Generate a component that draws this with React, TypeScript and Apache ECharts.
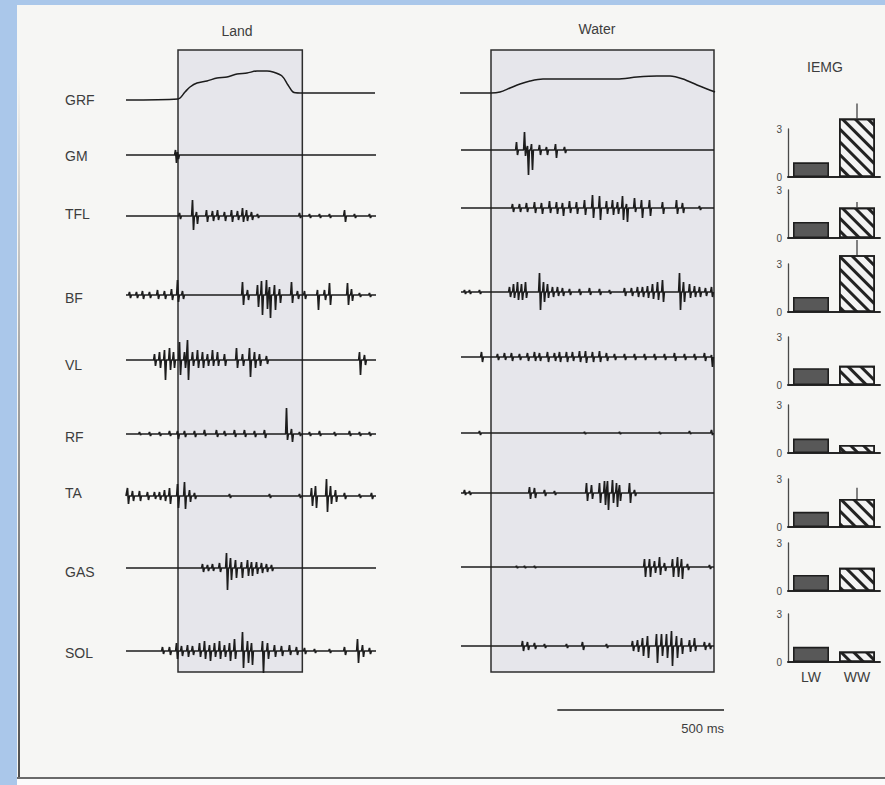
import React, { useEffect, useRef } from 'react';
import * as echarts from 'echarts';

// ---------- DATA ----------
const rowNames = ['GRF', 'GM', 'TFL', 'BF', 'VL', 'RF', 'TA', 'GAS', 'SOL'];

// Ground reaction force [ms from foot contact, force a.u.]
const grfLand = [[-156, 0], [0, 1], [21, 8], [36, 13], [57, 17], [87, 19], [117, 22], [147, 23], [177, 26], [207, 27], [237, 29], [267, 29], [285, 28], [312, 24], [330, 15], [345, 8], [366, 7], [591, 7]];
const grfWater = [[-93, 0], [0, 0], [27, 1], [57, 5], [87, 9], [117, 12], [156, 14], [228, 14], [297, 14], [378, 14], [438, 16], [498, 17], [537, 17], [576, 14], [618, 8], [648, 4], [672, 1]];

// EMG spikes: [ms, upward amplitude, downward amplitude]
const gmLand = [[-6, 5, 8], [0, 3, 4]];
const tflLand = [[6, 3, 3], [45, 16, 14], [57, 4, 8], [87, 6, 6], [105, 5, 5], [120, 6, 4], [141, 4, 5], [162, 6, 6], [180, 5, 4], [195, 8, 6], [207, 6, 5], [222, 4, 4], [240, 2, 2], [366, 3, 2], [396, 2, 2], [426, 2, 2], [456, 2, 2], [501, 6, 6], [531, 2, 2], [576, 2, 2]];
const bfLand = [[-144, 3, 3], [-123, 3, 3], [-105, 4, 4], [-84, 3, 3], [-60, 5, 4], [-39, 4, 4], [-18, 6, 5], [0, 15, 7], [15, 4, 4], [195, 13, 10], [210, 5, 5], [240, 10, 12], [252, 14, 20], [267, 15, 14], [276, 8, 23], [291, 10, 15], [306, 6, 8], [342, 13, 8], [360, 4, 4], [381, 4, 4], [420, 5, 15], [441, 5, 5], [456, 12, 10], [510, 12, 10], [522, 6, 6], [546, 2, 2], [576, 2, 2]];
const vlLand = [[-69, 6, 6], [-54, 8, 8], [-39, 10, 20], [-24, 12, 10], [-12, 8, 8], [6, 18, 15], [21, 8, 8], [30, 20, 20], [45, 8, 6], [60, 10, 8], [75, 8, 8], [90, 6, 6], [105, 10, 6], [120, 8, 6], [141, 6, 6], [177, 12, 8], [195, 6, 6], [216, 12, 17], [231, 8, 8], [246, 6, 6], [267, 4, 4], [546, 8, 15], [561, 5, 5]];
const rfLand = [[-114, 2, 1], [-84, 2, 2], [-54, 2, 2], [-24, 3, 2], [0, 3, 5], [21, 3, 3], [51, 3, 3], [81, 4, 2], [117, 4, 3], [141, 3, 2], [171, 4, 3], [201, 4, 3], [231, 3, 3], [261, 4, 4], [327, 26, 6], [342, 5, 8], [366, 2, 2], [396, 2, 2], [426, 3, 2], [471, 2, 2], [516, 3, 2], [546, 2, 2], [576, 2, 2]];
const taLand = [[-150, 8, 8], [-135, 5, 5], [-114, 5, 5], [-90, 4, 4], [-69, 4, 3], [-54, 4, 4], [-39, 6, 5], [-24, 8, 8], [0, 12, 12], [21, 14, 13], [36, 6, 6], [51, 3, 3], [156, 2, 2], [276, 2, 2], [366, 2, 2], [402, 8, 10], [414, 10, 12], [447, 17, 16], [459, 10, 8], [474, 6, 6], [501, 3, 3], [546, 2, 2], [582, 3, 3]];
const gasLand = [[75, 4, 4], [90, 3, 3], [105, 4, 3], [126, 5, 4], [147, 15, 22], [159, 10, 12], [174, 8, 10], [192, 6, 10], [210, 8, 8], [222, 6, 8], [237, 6, 6], [252, 5, 5], [267, 4, 4], [282, 3, 3]];
const solLand = [[-45, 4, 3], [-24, 4, 4], [-3, 8, 8], [12, 5, 5], [30, 6, 6], [45, 5, 4], [66, 8, 6], [81, 10, 8], [96, 6, 10], [111, 8, 6], [126, 10, 8], [141, 6, 6], [156, 8, 10], [171, 12, 8], [195, 19, 17], [210, 10, 12], [222, 8, 14], [255, 10, 22], [270, 8, 8], [291, 6, 6], [312, 5, 5], [336, 6, 4], [357, 4, 4], [381, 3, 3], [411, 2, 2], [456, 2, 2], [501, 4, 4], [540, 12, 12], [555, 6, 6], [576, 3, 3]];

const gmWater = [[78, 8, 5], [102, 18, 6], [111, 4, 25], [123, 6, 20], [147, 5, 5], [168, 3, 5], [195, 6, 8], [222, 3, 3]];
const tflWater = [[66, 4, 4], [87, 4, 4], [108, 5, 4], [132, 6, 5], [153, 5, 6], [177, 7, 5], [198, 6, 6], [216, 5, 8], [237, 7, 5], [258, 6, 6], [282, 8, 7], [306, 13, 10], [327, 12, 12], [348, 7, 6], [366, 8, 7], [381, 6, 6], [396, 12, 12], [408, 4, 14], [432, 10, 4], [453, 8, 10], [477, 8, 8], [516, 6, 6], [558, 8, 6], [576, 5, 5], [627, 2, 2]];
const bfWater = [[-78, 2, 2], [-63, 2, 2], [-33, 2, 2], [57, 5, 5], [69, 8, 6], [81, 10, 8], [93, 8, 8], [105, 10, 6], [147, 19, 18], [159, 10, 10], [171, 8, 6], [186, 5, 5], [201, 5, 4], [216, 4, 4], [237, 3, 3], [267, 3, 3], [297, 4, 3], [327, 3, 3], [357, 2, 2], [402, 4, 4], [423, 4, 4], [441, 5, 5], [456, 5, 5], [471, 6, 6], [486, 8, 7], [501, 10, 8], [516, 12, 10], [567, 19, 18], [579, 10, 10], [597, 8, 6], [612, 6, 5], [627, 5, 5], [645, 4, 4], [663, 5, 5]];
const vlWater = [[-27, 5, 5], [21, 3, 3], [42, 4, 3], [63, 4, 4], [87, 3, 3], [111, 4, 4], [132, 5, 4], [147, 4, 4], [171, 5, 5], [192, 4, 4], [207, 5, 5], [228, 5, 5], [246, 5, 4], [267, 6, 5], [285, 6, 6], [306, 5, 5], [327, 6, 5], [348, 4, 4], [372, 3, 3], [402, 3, 3], [432, 3, 3], [462, 3, 3], [492, 3, 3], [522, 3, 3], [552, 4, 4], [582, 3, 3], [612, 3, 3], [642, 4, 4], [663, 2, 10]];
const rfWater = [[-33, 2, 2], [282, 1, 1], [387, 1, 1], [507, 1, 1], [597, 2, 1], [663, 3, 2]];
const taWater = [[-78, 3, 2], [-63, 2, 2], [117, 6, 6], [132, 5, 5], [162, 3, 3], [192, 2, 2], [288, 10, 8], [303, 8, 6], [327, 10, 10], [342, 12, 12], [351, 12, 17], [366, 13, 10], [378, 10, 14], [387, 8, 8], [417, 10, 10], [432, 3, 3]];
const gasWater = [[78, 1, 1], [102, 1, 1], [132, 1, 1], [462, 8, 10], [477, 8, 10], [492, 6, 6], [507, 10, 8], [522, 4, 4], [546, 8, 10], [561, 10, 10], [573, 8, 12], [591, 3, 3], [657, 2, 2]];
const solWater = [[96, 5, 5], [111, 4, 4], [132, 3, 3], [162, 2, 2], [228, 2, 2], [276, 4, 4], [348, 2, 2], [426, 5, 5], [441, 6, 6], [456, 8, 10], [471, 10, 12], [498, 12, 17], [513, 12, 10], [528, 12, 12], [543, 15, 20], [558, 10, 12], [573, 8, 8], [597, 6, 6], [612, 8, 5], [642, 4, 4], [657, 3, 3]];

const landEmg = [gmLand, tflLand, bfLand, vlLand, rfLand, taLand, gasLand, solLand];
const waterEmg = [gmWater, tflWater, bfWater, vlWater, rfWater, taWater, gasWater, solWater];

// Stance (box) durations in ms
const landStance = [0, 373];
const waterStance = [0, 669];
const landTrace = [-156, 594];
const waterTrace = [-90, 669];

// IEMG bars
const iemgCats = ['LW', 'WW'];
const iemgLW = [0.92, 1.0, 0.94, 1.05, 0.9, 0.95, 1.0, 0.95];
const iemgWW = [3.65, 1.9, 3.55, 1.2, 0.5, 1.75, 1.45, 0.65];
const iemgWWErr = [0.95, 0.35, 0.95, 0, 0, 0.7, 0, 0];
const iemgTicks = [0, 3];

const scaleBarMs = 500;

// ---------- LAYOUT ----------
const LAND_AX = { left: 125, width: 253, min: -159, max: 600 };
const WATER_AX = { left: 454, width: 270, min: -111, max: 699 };
const landBase = [100, 155, 216, 295, 360, 434, 496, 568, 651];
const waterBase = [93, 150, 208, 292, 357, 433, 493, 567, 646];
const labelY = [100, 156, 214, 298, 365, 437, 493, 572, 653];
const barTops = [129, 190, 264, 337, 405, 479, 543, 614];
const BOX_TOP = 50;
const BOX_BOTTOM = 672;
const INK = '#1c1c1c';
const TEXT = '#3d3d3d';
const FONT = '"Liberation Sans", Arial, sans-serif';

function spikeTrace(range: number[], spikes: number[][]) {
  const pts: number[][] = [[range[0], 0]];
  for (const [t, up, down] of spikes) {
    pts.push([t - 4, 0], [t - 1.5, up], [t + 1.5, -down], [t + 4, 0]);
  }
  pts.push([range[1], 0]);
  return pts;
}

function buildOption() {
  const grid: any[] = [];
  const xAxis: any[] = [];
  const yAxis: any[] = [];
  const series: any[] = [];

  const addGrid = (g: any, xa: any, ya: any) => {
    grid.push({ ...g, containLabel: false });
    xAxis.push({ gridIndex: grid.length - 1, ...xa });
    yAxis.push({ gridIndex: grid.length - 1, ...ya });
    return grid.length - 1;
  };
  const hiddenVal = (min: number, max: number) => ({ type: 'value', min, max, show: false });

  // Stance boxes
  const boxRender = (params: any, api: any) => {
    const p0 = api.coord([api.value(0), api.value(3)]);
    const p1 = api.coord([api.value(2), api.value(1)]);
    return {
      type: 'rect',
      shape: { x: p0[0], y: p0[1], width: p1[0] - p0[0], height: p1[1] - p0[1] },
      style: { fill: '#e6e6eb', stroke: '#2e2e2e', lineWidth: 1.5 },
    };
  };
  [[LAND_AX, landStance], [WATER_AX, waterStance]].forEach(([ax, st]: any) => {
    const gi = addGrid(
      { left: ax.left, width: ax.width, top: BOX_TOP, height: BOX_BOTTOM - BOX_TOP },
      hiddenVal(ax.min, ax.max),
      hiddenVal(0, 1)
    );
    series.push({
      type: 'custom', xAxisIndex: gi, yAxisIndex: gi, z: 1, silent: true, clip: false,
      encode: { x: [0, 2], y: [1, 3] },
      data: [[st[0], 0, st[1], 1]],
      renderItem: boxRender,
    });
  });

  // Traces
  const lineS = (gi: number, data: number[][]) => ({
    type: 'line', xAxisIndex: gi, yAxisIndex: gi, data, showSymbol: false, symbol: 'none',
    silent: true, z: 3, lineStyle: { color: INK, width: 1.7 },
  });
  // GRF
  {
    const g1 = addGrid({ left: LAND_AX.left, width: LAND_AX.width, top: landBase[0] - 40, height: 50 }, hiddenVal(LAND_AX.min, LAND_AX.max), hiddenVal(-10, 40));
    series.push({ ...lineS(g1, grfLand), smooth: 0.3, lineStyle: { color: INK, width: 1.5 } });
    const g2 = addGrid({ left: WATER_AX.left, width: WATER_AX.width, top: waterBase[0] - 40, height: 50 }, hiddenVal(WATER_AX.min, WATER_AX.max), hiddenVal(-10, 40));
    series.push({ ...lineS(g2, grfWater), smooth: 0.3, lineStyle: { color: INK, width: 1.5 } });
  }
  for (let i = 0; i < landEmg.length; i++) {
    const g1 = addGrid({ left: LAND_AX.left, width: LAND_AX.width, top: landBase[i + 1] - 30, height: 60 }, hiddenVal(LAND_AX.min, LAND_AX.max), hiddenVal(-30, 30));
    series.push(lineS(g1, spikeTrace(landTrace, landEmg[i])));
    const g2 = addGrid({ left: WATER_AX.left, width: WATER_AX.width, top: waterBase[i + 1] - 30, height: 60 }, hiddenVal(WATER_AX.min, WATER_AX.max), hiddenVal(-30, 30));
    series.push(lineS(g2, spikeTrace(waterTrace, waterEmg[i])));
  }

  // Scale bar
  {
    const gi = addGrid({ left: WATER_AX.left, width: WATER_AX.width, top: 700, height: 20 }, hiddenVal(WATER_AX.min, WATER_AX.max), hiddenVal(0, 1));
    series.push({
      ...lineS(gi, [[WATER_AX.max - scaleBarMs, 0.5], [WATER_AX.max, 0.5]]),
      lineStyle: { color: INK, width: 1.6 },
    });
  }

  // IEMG bars
  const lwStyle = { color: '#585858', borderColor: '#1e1e1e', borderWidth: 1.6 };
  const wwStyle = {
    color: '#f3f3f3', borderColor: '#1e1e1e', borderWidth: 1.6,
    decal: {
      symbol: 'rect', symbolSize: 1, dashArrayX: [1, 0], dashArrayY: [2.4, 5.6],
      rotation: Math.PI / 4, color: '#222', backgroundColor: '#f3f3f3',
    },
  };
  for (let k = 0; k < iemgLW.length; k++) {
    const last = k === iemgLW.length - 1;
    const gi = addGrid(
      { left: 788, width: 92, top: barTops[k], height: 48 },
      {
        type: 'category', data: iemgCats,
        axisLine: { show: true, lineStyle: { color: '#262626', width: 2 } },
        axisTick: { show: false },
        axisLabel: { show: last, fontSize: 14, color: TEXT, fontFamily: FONT, margin: 8 },
      },
      {
        type: 'value', min: iemgTicks[0], max: iemgTicks[1], interval: iemgTicks[1],
        axisLine: { show: true, lineStyle: { color: '#4a4a4a', width: 1.3 } },
        axisTick: { show: false }, splitLine: { show: false },
        axisLabel: { fontSize: 10, color: '#4a4a4a', fontFamily: FONT, margin: 6 },
      }
    );
    series.push({
      type: 'bar', xAxisIndex: gi, yAxisIndex: gi, barWidth: 36, clip: false, silent: true, z: 3,
      data: [
        { value: iemgLW[k], itemStyle: lwStyle },
        { value: iemgWW[k], itemStyle: wwStyle },
      ],
    });
    if (iemgWWErr[k] > 0) {
      series.push({
        type: 'custom', xAxisIndex: gi, yAxisIndex: gi, clip: false, silent: true, z: 4,
        data: [[1, iemgWW[k], iemgWW[k] + iemgWWErr[k]]],
        encode: { x: 0, y: [1, 2] },
        renderItem: (params: any, api: any) => {
          const a = api.coord([api.value(0), api.value(1)]);
          const b = api.coord([api.value(0), api.value(2)]);
          return { type: 'line', shape: { x1: a[0], y1: a[1], x2: b[0], y2: b[1] }, style: { stroke: '#333', lineWidth: 1.2 } };
        },
      });
    }
  }

  const txt = (text: string, x: number, y: number, align: string, size = 14) => ({
    type: 'text', x, y, silent: true, z: 10,
    style: { text, fill: TEXT, fontSize: size, fontFamily: FONT, align, verticalAlign: 'middle' },
  });

  const graphic: any[] = [
    { type: 'rect', shape: { x: 0, y: 0, width: 885, height: 5 }, style: { fill: '#aac7ea' }, silent: true, z: 0 },
    { type: 'rect', shape: { x: 0, y: 0, width: 17, height: 785 }, style: { fill: '#aac7ea' }, silent: true, z: 0 },
    {
      type: 'rect', shape: { x: 18, y: 70, width: 2, height: 708 }, silent: true, z: 0,
      style: {
        fill: new echarts.graphic.LinearGradient(0, 0, 0, 1, [
          { offset: 0, color: 'rgba(90,90,90,0)' },
          { offset: 0.4, color: 'rgba(90,90,90,0.5)' },
          { offset: 1, color: 'rgba(60,60,60,0.9)' },
        ]),
      },
    },
    { type: 'rect', shape: { x: 17, y: 777, width: 868, height: 2 }, style: { fill: '#6a6a6a' }, silent: true, z: 0 },
    { type: 'rect', shape: { x: 17, y: 779, width: 868, height: 6 }, style: { fill: '#fbfbfb' }, silent: true, z: 0 },
    txt('Land', 237, 31, 'center'),
    txt('Water', 597, 29, 'center'),
    txt('IEMG', 825, 67, 'center'),
    txt(`${scaleBarMs} ms`, 724, 728, 'right', 13),
    ...rowNames.map((n, i) => txt(n, 65, labelY[i], 'left')),
  ];

  return {
    animation: false,
    backgroundColor: '#f6f6f4',
    grid, xAxis, yAxis, series, graphic,
  };
}

export default function App() {
  const ref = useRef<HTMLDivElement>(null);
  useEffect(() => {
    if (!ref.current) return;
    const chart = echarts.init(ref.current, undefined, { renderer: 'svg' });
    chart.setOption(buildOption() as any);
    return () => chart.dispose();
  }, []);
  return <div ref={ref} style={{ position: 'absolute', left: 0, top: 0, width: 885, height: 785 }} />;
}
